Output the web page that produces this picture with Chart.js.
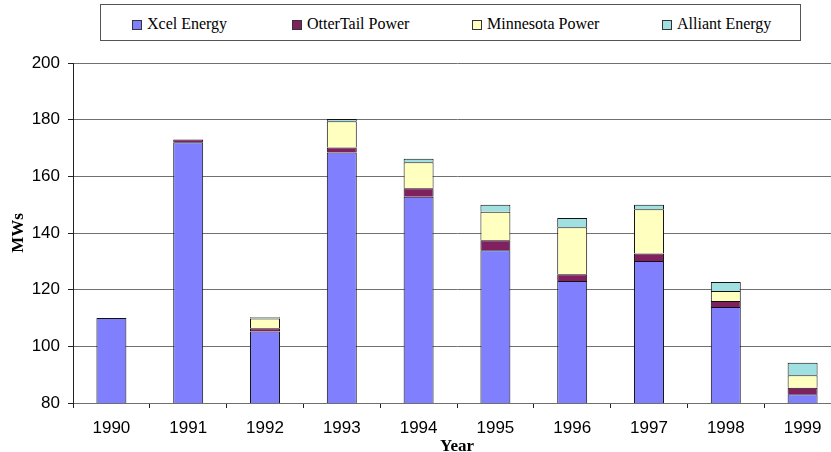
<!DOCTYPE html>
<html>
<head>
<meta charset="utf-8">
<script src="https://cdn.jsdelivr.net/npm/chart.js@4/dist/chart.umd.min.js"></script>
<style>
    body { margin: 0; background: #fff; overflow: hidden; }
    #wrap { position: relative; width: 831px; height: 452px; overflow: hidden; }
    #chart { position: absolute; left: 0; top: 0; }
    #legend {
        position: absolute; left: 100px; top: 4px; width: 699px; height: 35px;
        border: 1px solid #555; background: #fff; color: #000;
    }
    .item { position: absolute; top: 11px; line-height: 16px; white-space: nowrap; }
    .sw { position: absolute; top: 4px; left: 0; width: 8px; height: 8px; border: 1px solid #333; }
    .lbl {
        position: absolute; left: 15px; top: 0;
        font-family: 'Liberation Serif', 'Times New Roman', serif; font-size: 16px;
    }
</style>
</head>
<body>
<div id="wrap">
    <canvas id="chart" width="842" height="452"></canvas>
    <div id="legend"></div>
</div>
<script>

const years = ["1990", "1991", "1992", "1993", "1994", "1995", "1996", "1997", "1998", "1999"];

const xcel      = [110, 172, 105.2, 168.4, 152.8, 133.9, 123.1, 130.1, 113.9, 83.1];
const otterTail = [0,   1,   1.2,   1.8,   3,     3.5,   2.3,   2.7,   2.1,   2.3];
const minnesota = [0,   0,   3.4,   9.2,   9.2,   10.1,  16.6,  15.6,  3.5,   4.4];
const alliant   = [0,   0,   0.5,   0.8,   1.2,   2.5,   3.3,   1.6,   3.2,   4.4];

const seriesNames  = ["Xcel Energy", "OtterTail Power", "Minnesota Power", "Alliant Energy"];
const seriesColors = ["#8080FF", "#80205F", "#FFFFC0", "#A0E0E0"];
const legendLeft   = [31, 191, 371, 561];

const yTicks = [80, 100, 120, 140, 160, 180, 200];

// html legend (boxed, spread across the top)
const legend = document.getElementById("legend");
seriesNames.forEach((name, i) => {
    legend.innerHTML += `
        <div class="item" style="left:${legendLeft[i]}px">
            <span class="sw" style="background:${seriesColors[i]}"></span>
            <span class="lbl">${name}</span>
        </div>`;
});

const seriesData = [xcel, otterTail, minnesota, alliant];

new Chart(document.getElementById("chart"), {
    type: "bar",
    data: {
        labels: years,
        datasets: seriesNames.map((name, i) => ({
            label: name,
            data: seriesData[i],
            backgroundColor: seriesColors[i],
            borderColor: "#111",
            borderWidth: 1,
            barPercentage: 0.39,
            categoryPercentage: 1
        }))
    },
    options: {
        responsive: false,
        animation: false,
        layout: { padding: { top: 63, right: 1, left: 0, bottom: 0 } },
        plugins: {
            legend: { display: false },
            tooltip: { enabled: false }
        },
        scales: {
            x: {
                stacked: true,
                afterFit: s => { s.height = 49; },
                grid: {
                    offset: true,
                    drawOnChartArea: false,
                    tickLength: 5,
                    color: "#222"
                },
                border: { color: "#707070" },
                ticks: {
                    color: "#000",
                    padding: 10,
                    font: { size: 17, family: "Liberation Sans, Arial" }
                },
                title: {
                    display: true,
                    text: "Year",
                    color: "#000",
                    padding: { top: 0, bottom: -3 },
                    font: { size: 17, weight: "bold", family: "Liberation Serif, Times New Roman", lineHeight: 1 }
                }
            },
            y: {
                stacked: true,
                min: 80,
                max: 200,
                afterFit: s => { s.width = 73; },
                afterBuildTicks: s => { s.ticks = yTicks.map(v => ({ value: v })); },
                grid: { color: "#707070", tickColor: "#222", tickLength: 5 },
                border: { color: "#222" },
                ticks: {
                    color: "#000",
                    padding: 8,
                    font: { size: 17, family: "Liberation Sans, Arial" }
                },
                title: {
                    display: true,
                    text: "MWs",
                    color: "#000",
                    padding: { top: 10 },
                    font: { size: 17, weight: "bold", family: "Liberation Serif, Times New Roman", lineHeight: 1 }
                }
            }
        }
    }
});
</script>
</body>
</html>
